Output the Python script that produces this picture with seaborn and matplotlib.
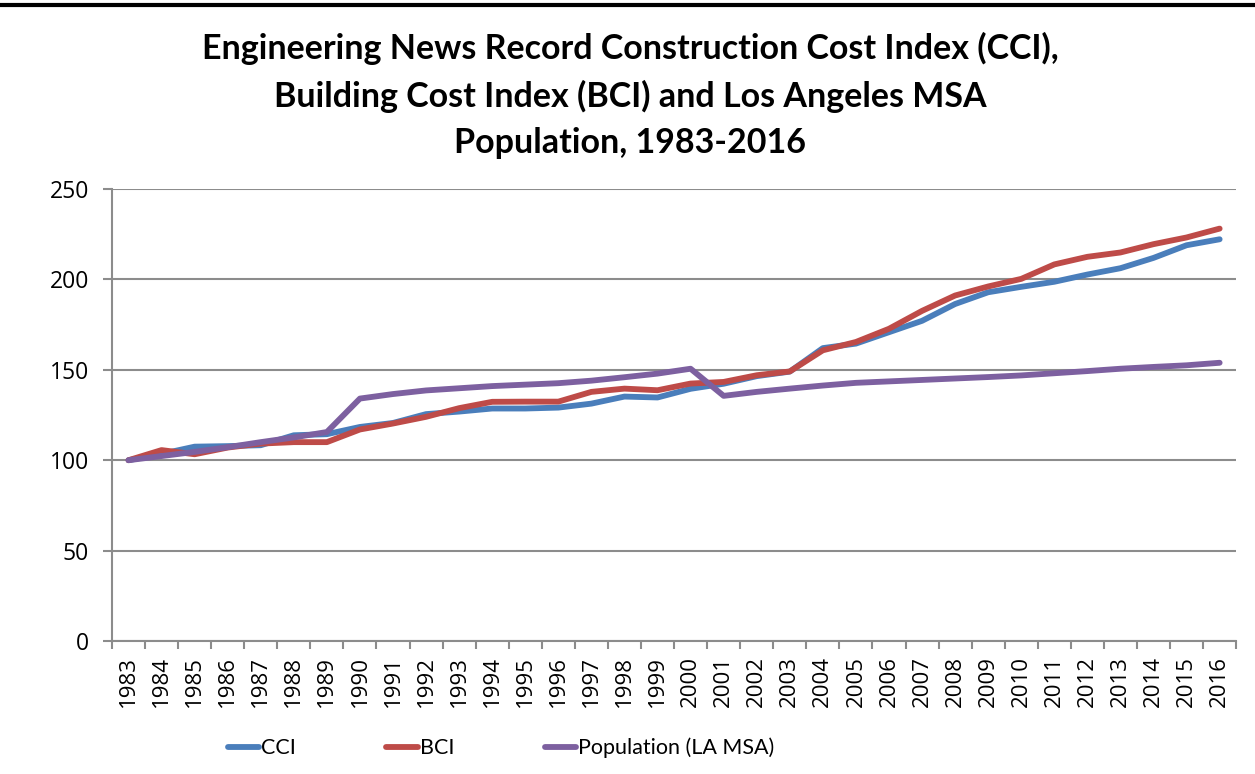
import numpy as np
import pandas as pd
import seaborn as sns
import matplotlib.pyplot as plt
from matplotlib.ticker import FixedLocator

years = list(range(1983, 2017))

cci = [100, 103.5, 107.5, 107.8, 108.3, 113.8, 114.4, 118.4, 120.6, 125.5,
       126.9, 128.6, 128.6, 129.1, 131.3, 135.2, 134.7, 139.5, 142.3, 146.5,
       149.0, 162.0, 164.5, 170.8, 177.1, 186.4, 192.9, 195.9, 198.7, 202.7,
       206.2, 211.9, 218.9, 222.2]
bci = [100, 105.6, 103.3, 107.0, 109.2, 110.0, 110.0, 117.0, 120.3, 124.0,
       128.8, 132.3, 132.4, 132.4, 137.8, 139.6, 138.7, 142.4, 143.3, 147.0,
       149.1, 160.8, 165.4, 172.7, 182.6, 191.1, 196.1, 200.3, 208.3, 212.5,
       214.9, 219.5, 223.2, 228.1]
population = [100, 102.3, 104.6, 107.2, 110.0, 112.6, 115.6, 134.1, 136.6, 138.6,
              139.8, 141.0, 141.8, 142.6, 144.0, 145.9, 147.9, 150.6, 135.6, 137.8,
              139.6, 141.3, 142.8, 143.6, 144.4, 145.2, 146.0, 146.9, 148.1, 149.3,
              150.6, 151.6, 152.5, 153.9]

series_names = ["CCI", "BCI", "Population (LA MSA)"]
colors = ["#4A7EBB", "#BE4B48", "#7D60A0"]

df = pd.DataFrame({
    "year": years * 3,
    "value": cci + bci + population,
    "series": [series_names[0]] * len(years) + [series_names[1]] * len(years)
              + [series_names[2]] * len(years),
})

sns.set_style("white")
plt.rcParams["font.family"] = ["Open Sans", "DejaVu Sans"]
plt.rcParams["text.color"] = "black"
plt.rcParams["xtick.color"] = "black"
plt.rcParams["ytick.color"] = "black"

fig = plt.figure(figsize=(12.55, 7.74), dpi=100)
ax = fig.add_axes([0.0892, 0.1718, 0.8958, 0.584])

sns.lineplot(data=df, x="year", y="value", hue="series", hue_order=series_names,
             palette=colors, linewidth=4.2, ax=ax, legend=True)
for ln in ax.lines:
    ln.set_solid_capstyle("round")
    ln.set_solid_joinstyle("round")

ax.set_xlim(years[0] - 0.5, years[-1] + 0.5)
ax.set_ylim(0, 250)
ax.set_yticks(range(0, 251, 50))
ax.set_xticks(years)
ax.set_xticklabels([str(y) for y in years], rotation=90, fontsize=16)
ax.xaxis.set_minor_locator(FixedLocator(np.arange(years[0] - 0.5, years[-1] + 1, 1)))
ax.tick_params(axis="x", which="major", length=0, pad=11)
ax.tick_params(axis="x", which="minor", length=5.5, width=1.5, color="#8c8c8c",
               direction="out", bottom=True)
ax.tick_params(axis="y", length=6.5, width=1.5, color="#8c8c8c", direction="out",
               left=True, labelsize=16.5, pad=10)
ax.set_xlabel("")
ax.set_ylabel("")

ax.yaxis.grid(True, color="#8c8c8c", linewidth=1.5)
ax.xaxis.grid(False)
for side in ["top", "right"]:
    ax.spines[side].set_visible(False)
for side in ["left", "bottom"]:
    ax.spines[side].set_color("#8c8c8c")
    ax.spines[side].set_linewidth(1.5)

fig.text(0.502, 0.877,
         "Engineering News Record Construction Cost Index (CCI),\n"
         "Building Cost Index (BCI) and Los Angeles MSA\n"
         "Population, 1983-2016",
         ha="center", va="center", fontsize=24.5, fontweight="bold",
         color="black", family=["Lato", "DejaVu Sans"], linespacing=1.55)

fig.add_artist(plt.Line2D([0, 1], [0.993, 0.993], color="black", linewidth=3,
                          transform=fig.transFigure))

ax.legend(loc="center left", bbox_to_anchor=(0.103, -0.237), ncol=3, frameon=False,
          prop={"family": ["Lato", "DejaVu Sans"], "size": 15.5},
          handlelength=1.45, handletextpad=0.1, columnspacing=4.2,
          borderpad=0, borderaxespad=0)

fig.savefig("out.png", dpi=100, facecolor="white")
